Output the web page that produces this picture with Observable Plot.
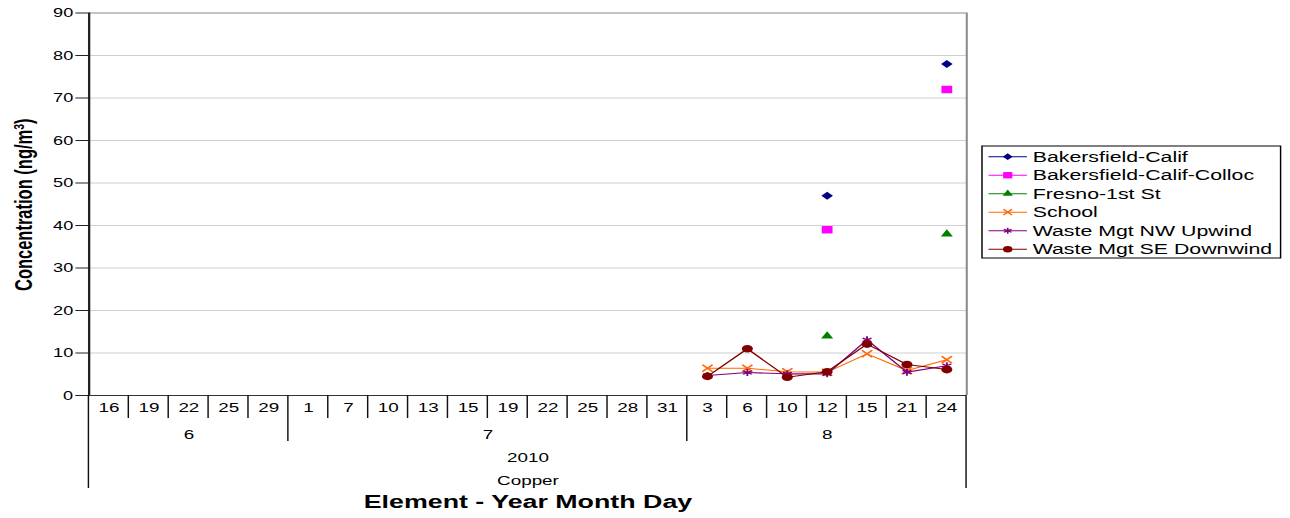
<!DOCTYPE html>
<html>
<head>
<meta charset="utf-8">
<script src="https://cdn.jsdelivr.net/npm/d3@7"></script>
<script src="https://cdn.jsdelivr.net/npm/@observablehq/plot@0.6"></script>
<style>
  html, body { margin: 0; padding: 0; background: #fff; }
  #chart { width: 1290px; height: 518px; overflow: hidden; }
</style>
</head>
<body>
<div id="chart"></div>
<script>
// ---- data ----
const days   = [16, 19, 22, 25, 29, 1, 7, 10, 13, 15, 19, 22, 25, 28, 31, 3, 6, 10, 12, 15, 21, 24];
const months = [6, 6, 6, 6, 6, 7, 7, 7, 7, 7, 7, 7, 7, 7, 7, 8, 8, 8, 8, 8, 8, 8];
const yearLabel = "2010";
const elementLabel = "Copper";
const yTicks = [0, 10, 20, 30, 40, 50, 60, 70, 80, 90];

const seriesNames = ["Bakersfield-Calif", "Bakersfield-Calif-Colloc", "Fresno-1st St", "School", "Waste Mgt NW Upwind", "Waste Mgt SE Downwind"];
const N = null;
const bakersfield = [N, N, N, N, N, N, N, N, N, N, N, N, N, N, N, N, N, N, 47, N, N, 78];
const colloc      = [N, N, N, N, N, N, N, N, N, N, N, N, N, N, N, N, N, N, 39, N, N, 72];
const fresno      = [N, N, N, N, N, N, N, N, N, N, N, N, N, N, N, N, N, N, 14, N, N, 38];
const school      = [N, N, N, N, N, N, N, N, N, N, N, N, N, N, N, 6.4, 6.4, 5.6, 5.5, 9.8, 5.9, 8.4];
const nwUpwind    = [N, N, N, N, N, N, N, N, N, N, N, N, N, N, N, 4.7, 5.4, 5.1, 5.1, 13.1, 5.5, 7.0];
const seDownwind  = [N, N, N, N, N, N, N, N, N, N, N, N, N, N, N, 4.5, 11.0, 4.3, 5.6, 12.1, 7.3, 6.1];

const seriesValues = [bakersfield, colloc, fresno, school, nwUpwind, seDownwind];
const colors  = ["#000080", "#ff00ff", "#008000", "#ff6600", "#800080", "#800000"];
const symbols = ["diamond2", "square", "triangle", "times", "asterisk", "circle"];
const symbolR = [3.6, 4.2, 3.1, 3.3, 3.3, 3.8];
const filled  = [true, true, true, false, false, true];
const d3Symbols = {diamond2: d3.symbolDiamond2, square: d3.symbolSquare, triangle: d3.symbolTriangle, times: d3.symbolTimes, asterisk: d3.symbolAsterisk, circle: d3.symbolCircle};

// ---- layout (drawn in an unstretched space, then stretched horizontally like the reference) ----
const W = 890, H = 518, OUTW = 1290;
const font = "'Liberation Sans', Arial, Helvetica, sans-serif";

const rows = seriesValues.map((vals, s) =>
  vals.map((v, i) => ({series: seriesNames[s], x: i + 0.5, y: v}))
);

const dayRows = days.map((d, i) => ({x: i + 0.5, label: String(d)}));
const monthGroups = d3.groups(months.map((m, i) => ({m, i})), d => d.m)
  .map(([m, arr]) => ({x: (arr[0].i + arr[arr.length - 1].i + 1) / 2, label: String(m)}));
const allCenter = [{x: days.length / 2}];

const seriesMarks = [];
seriesValues.forEach((vals, s) => {
  seriesMarks.push(Plot.line(rows[s], {x: "x", y: "y", stroke: colors[s], strokeWidth: 1.1}));
  seriesMarks.push(Plot.dot(rows[s].filter(d => d.y != null), filled[s]
    ? {x: "x", y: "y", symbol: symbols[s], r: symbolR[s], fill: colors[s], stroke: "none"}
    : {x: "x", y: "y", symbol: symbols[s], r: symbolR[s], fill: "none", stroke: colors[s], strokeWidth: 1.3}));
});

const svg = Plot.plot({
  width: W, height: H,
  marginLeft: 61, marginRight: 223.5, marginTop: 12.5, marginBottom: 123,
  style: {background: "#fff", fontFamily: font, fontSize: "13px", color: "#000"},
  x: {domain: [0, days.length], axis: null},
  y: {domain: [0, 90], axis: null},
  marks: [
    Plot.gridY(yTicks.filter(t => t > 0 && t < 90), {stroke: "#cfcfcf", strokeOpacity: 1}),
    Plot.ruleY([90], {stroke: "#8a8a8a"}),
    Plot.ruleX([days.length], {stroke: "#8a8a8a", strokeWidth: 1.4}),
    Plot.axisY({ticks: yTicks, tickSize: 9, tickPadding: 2, label: null, fontSize: 12.5, stroke: "#222"}),
    Plot.ruleY([0], {stroke: "#333"}),
    Plot.ruleX([0], {stroke: "#222", strokeWidth: 1.6}),
    ...seriesMarks,
    Plot.text(dayRows, {x: "x", text: "label", frameAnchor: "bottom", dy: 16, fontSize: 13}),
    Plot.text(monthGroups, {x: "x", text: "label", frameAnchor: "bottom", dy: 43, fontSize: 13}),
    Plot.text(allCenter, {x: "x", text: () => yearLabel, frameAnchor: "bottom", dy: 66, fontSize: 13}),
    Plot.text(allCenter, {x: "x", text: () => elementLabel, frameAnchor: "bottom", dy: 89, fontSize: 13}),
    Plot.text(allCenter, {x: "x", text: () => "Element - Year Month Day", frameAnchor: "bottom", dy: 112.5, fontSize: 18.5, fontWeight: "bold"})
  ]
});

const xs = svg.scale("x"), ys = svg.scale("y");
const y0 = ys.apply(0);
const root = d3.select(svg);

// multi-level category separators
const sep = root.append("g").attr("stroke", "#111").attr("stroke-width", 1);
for (let i = 0; i <= days.length; i++) {
  let len = 23;
  if (i === 0 || i === days.length) len = 93;
  else if (months[i] !== months[i - 1]) len = 46;
  sep.append("line")
    .attr("x1", xs.apply(i)).attr("x2", xs.apply(i))
    .attr("y1", y0).attr("y2", y0 + len);
}

// y-axis title with superscript
const yt = root.append("text")
  .attr("transform", `translate(16.5,${(ys.apply(90) + y0) / 2 + 1}) rotate(-90)`)
  .attr("text-anchor", "middle")
  .attr("dy", "0.35em")
  .attr("font-family", font)
  .attr("font-size", 16.5)
  .attr("font-weight", "bold")
  .attr("fill", "#000");
yt.append("tspan").text("Concentration (ng/m");
yt.append("tspan").attr("dy", -6).attr("font-size", 10.5).text("3");
yt.append("tspan").attr("dy", 6).text(")");

// legend
const lx = 677.5, ly = 146, lw = 206, lh = 112, rowH = 18.5;
const leg = root.append("g").attr("font-family", font).attr("font-size", 14.7).attr("text-anchor", "start");
leg.append("rect").attr("x", lx).attr("y", ly).attr("width", lw).attr("height", lh)
  .attr("fill", "#fff").attr("stroke", "#000").attr("stroke-width", 1);
seriesNames.forEach((name, s) => {
  const cy = ly + 10.7 + s * rowH;
  const g = leg.append("g");
  g.append("line").attr("x1", lx + 4.5).attr("x2", lx + 31).attr("y1", cy).attr("y2", cy)
    .attr("stroke", colors[s]).attr("stroke-width", 1.1);
  const path = d3.symbol(d3Symbols[symbols[s]], Math.PI * Math.pow(symbolR[s] * 0.85, 2))();
  g.append("path").attr("d", path).attr("transform", `translate(${lx + 17.75},${cy})`)
    .attr("fill", filled[s] ? colors[s] : "none")
    .attr("stroke", filled[s] ? "none" : colors[s])
    .attr("stroke-width", 1.2);
  g.append("text").attr("x", lx + 35).attr("y", cy).attr("dy", "0.36em")
    .attr("text-anchor", "start").attr("fill", "#000").text(name);
});

// stretch horizontally like the reference picture
svg.setAttribute("viewBox", `0 0 ${W} ${H}`);
svg.setAttribute("width", OUTW);
svg.setAttribute("height", H);
svg.setAttribute("preserveAspectRatio", "none");
svg.style.width = OUTW + "px";
svg.style.height = H + "px";
svg.style.maxWidth = "none";

document.getElementById("chart").appendChild(svg);
</script>
</body>
</html>
